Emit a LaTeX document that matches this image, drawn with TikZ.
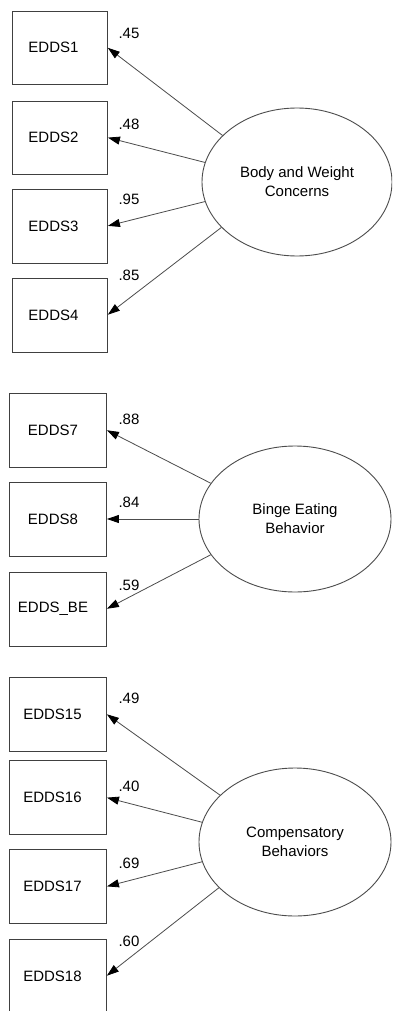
\documentclass[tikz,border=0pt]{standalone}
\usepackage{fontspec}
\setmainfont{Liberation Sans}
\usetikzlibrary{arrows.meta,shapes.geometric}
\begin{document}
\begin{tikzpicture}[x=1pt,y=-1pt,
  every node/.style={font=\fontsize{15}{19}\selectfont, text=black},
  obs/.style={draw=black!75, line width=0.9pt, rectangle, inner sep=0pt, minimum width=96pt, minimum height=74pt},
  lat/.style={draw=black!70, line width=0.9pt, ellipse, inner sep=0pt, align=center},
  load/.style={inner sep=0pt},
  arr/.style={draw=black!70, line width=0.8pt, -{Triangle[length=12pt,width=8pt,color=black]}, shorten >=0.5pt}
]
\clip (0,0) rectangle (392,1011);
\fill[white] (0,0) rectangle (392,1011);
% group 1
\node[obs, minimum width=95pt, minimum height=73pt] (b1) at (59.5,47.5) {EDDS1\hspace*{12pt}};
\node[obs, minimum width=95pt, minimum height=73pt] (b2) at (59.5,137.5) {EDDS2\hspace*{12pt}};
\node[obs, minimum width=95pt, minimum height=74pt] (b3) at (59.5,226) {EDDS3\hspace*{12pt}};
\node[obs, minimum width=95pt, minimum height=74pt] (b4) at (59.5,315) {EDDS4\hspace*{12pt}};
\node[lat, minimum width=190pt, minimum height=148pt] (e1) at (297,182) {Body and Weight\\Concerns};
\draw[arr] (e1.148.5) -- (b1.east);
\draw[arr] (e1.168.5) -- (b2.east);
\draw[arr] (e1.192) -- (b3.east);
\draw[arr] (e1.211.7) -- (b4.east);
\node[load] (l1) at (129,33) {.45};
\node[load] (l2) at (129,124) {.48};
\node[load] (l3) at (129,199) {.95};
\node[load] (l4) at (129,275) {.85};
% group 2
\node[obs, minimum width=97pt] (b7) at (57.5,430) {EDDS7\hspace*{9pt}};
\node[obs, minimum width=97pt] (b8) at (57.5,519) {EDDS8\hspace*{9pt}};
\node[obs, minimum width=97pt] (b9) at (57.5,609) {EDDS\_BE\hspace*{9pt}};
\node[lat, minimum width=192pt, minimum height=146pt] (e2) at (295,519) {Binge Eating\\Behavior};
\draw[arr] (e2.157.6) -- (b7.east);
\draw[arr] (e2.west) -- (b8.east);
\draw[arr] (e2.203) -- (b9.east);
\node[load] (l7) at (129,419) {.88};
\node[load] (l8) at (129,502) {.84};
\node[load] (l9) at (129,585) {.59};
% group 3
\node[obs, minimum width=97pt] (b15) at (57.5,714) {EDDS15\hspace*{10pt}};
\node[obs, minimum width=97pt] (b16) at (57.5,797.5) {EDDS16\hspace*{10pt}};
\node[obs, minimum width=97pt] (b17) at (57.5,886.5) {EDDS17\hspace*{10pt}};
\node[obs, minimum width=97pt] (b18) at (57.5,976) {EDDS18\hspace*{10pt}};
\node[lat, minimum width=192pt, minimum height=148pt] (e3) at (295,842) {Compensatory\\Behaviors};
\draw[arr] (e3.148.5) -- (b15.east);
\draw[arr] (e3.168.3) -- (b16.east);
\draw[arr] (e3.192) -- (b17.east);
\draw[arr] (e3.211.7) -- (b18.east);
\node[load] (l15) at (129,698) {.49};
\node[load] (l16) at (129,786) {.40};
\node[load] (l17) at (129,863) {.69};
\node[load] (l18) at (129,941) {.60};
\end{tikzpicture}
\end{document}
